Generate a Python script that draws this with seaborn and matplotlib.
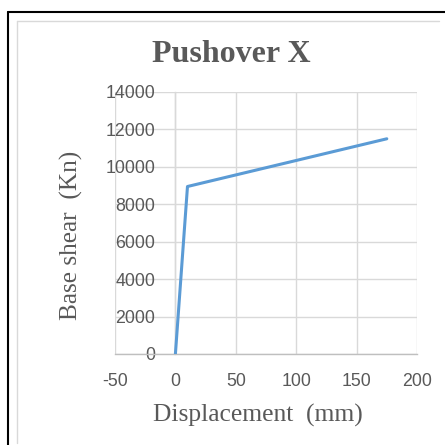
import matplotlib
matplotlib.use("Agg")
import matplotlib.pyplot as plt
import seaborn as sns
import pandas as pd
from matplotlib.lines import Line2D

# Data
displacement = [0, 10, 175]
base_shear = [0, 8950, 11500]
x_ticks = [-50, 0, 50, 100, 150, 200]
y_ticks = [0, 2000, 4000, 6000, 8000, 10000, 12000, 14000]
title = "Pushover X"
x_label = "Displacement  (mm)"
y_label = "Base shear  (Kn)"

sns.set_theme(style="white")
plt.rcParams['font.family'] = ['Liberation Sans', 'DejaVu Sans']

W = H = 445
fig = plt.figure(figsize=(W / 100, H / 100), dpi=100)
ax = fig.add_axes([115 / W, 1 - 354 / H, (417 - 115) / W, (354 - 92) / H])

df = pd.DataFrame({"x": displacement, "y": base_shear})
sns.lineplot(data=df, x="x", y="y", sort=False, ax=ax, color="#5B9BD5",
             linewidth=2.2, zorder=5)

ax.set_xlim(-50, 200)
ax.set_ylim(0, 14000)
ax.set_xticks(x_ticks)
ax.set_yticks(y_ticks)
ax.set_xticklabels([str(v) for v in x_ticks])
ax.set_yticklabels([str(v) for v in y_ticks])
ax.grid(True, color="#d9d9d9", linewidth=1.0)
ax.set_axisbelow(True)

for s in ["top", "right"]:
    ax.spines[s].set_visible(False)
ax.spines["left"].set_position(("data", 0))
ax.spines["left"].set_color("#d9d9d9")
ax.spines["left"].set_linewidth(1.0)
ax.spines["bottom"].set_color("#bfbfbf")
ax.spines["bottom"].set_linewidth(1.0)

ax.tick_params(axis="both", length=0, labelsize=12.8, labelcolor="#595959")
ax.tick_params(axis="y", pad=14.5)
ax.tick_params(axis="x", pad=13.5)
ax.set_xlabel("")
ax.set_ylabel("")

serif = ['Liberation Serif', 'DejaVu Serif']
fig.text(231 / W, 1 - 55 / H, title, ha="center", va="center",
         fontsize=23, fontweight="bold", color="#595959", family=serif)
fig.text(258 / W, 1 - 415 / H, x_label, ha="center", va="center",
         fontsize=18.4, color="#595959", family=serif)
fig.text(71 / W, 1 - 235 / H, y_label, ha="center", va="center",
         fontsize=18.2, color="#595959", family=serif, rotation=90)

# Frame lines
fig.add_artist(Line2D([7.5 / W, 1], [1 - 11.5 / H, 1 - 11.5 / H], color="black", linewidth=1.5))
fig.add_artist(Line2D([7.5 / W, 7.5 / W], [0, 1 - 11.5 / H], color="black", linewidth=1.5))
fig.add_artist(Line2D([17 / W, 439 / W], [1 - 21 / H, 1 - 21 / H], color="#d9d9d9", linewidth=1.0))
fig.add_artist(Line2D([17 / W, 17 / W], [1 - 443 / H, 1 - 21 / H], color="#d9d9d9", linewidth=1.0))

fig.savefig("out.png", dpi=100, facecolor="white")
